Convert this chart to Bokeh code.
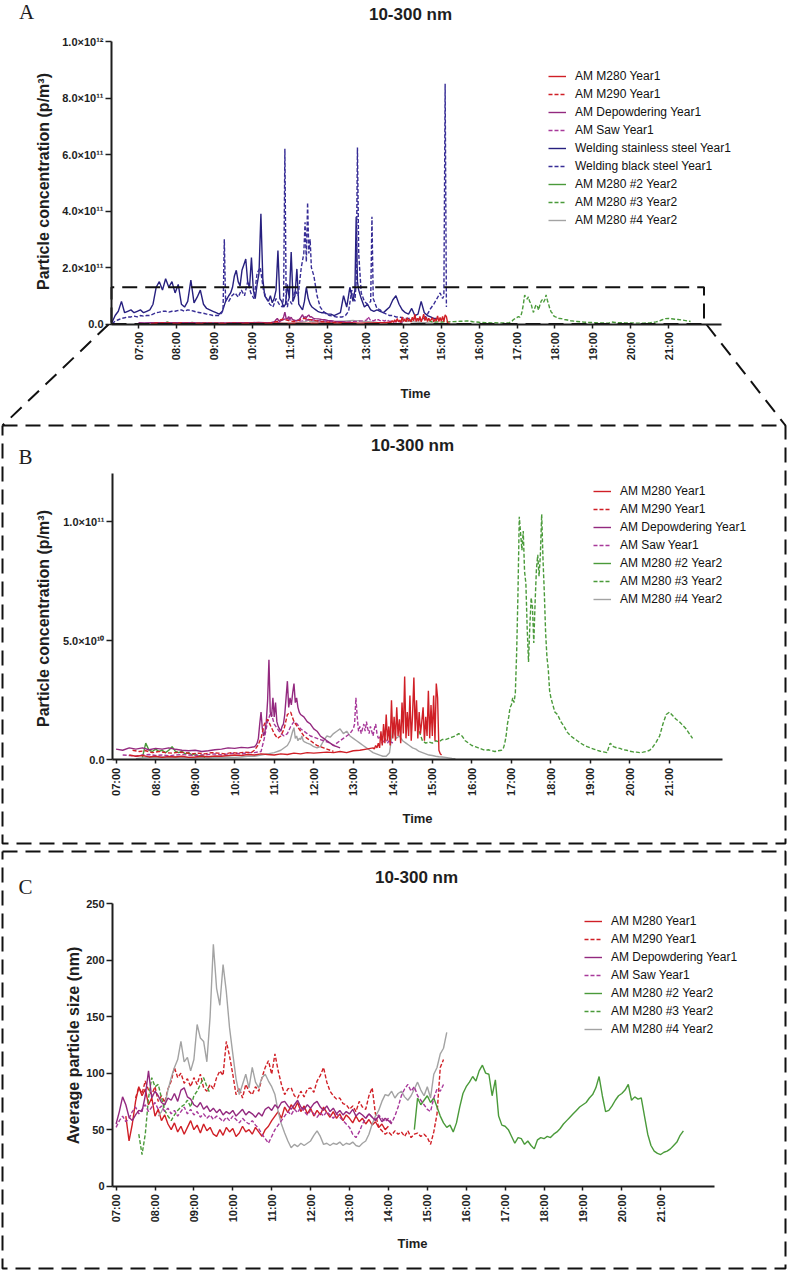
import math
import numpy as np
from bokeh.plotting import figure
from bokeh.models import Range1d, LinearAxis, FixedTicker, Legend, LegendItem
from bokeh.embed import file_html
from bokeh.resources import INLINE
from bokeh.core.properties import value

# ======================= DATA =======================
hour_ticks = list(range(7, 22))
hour_labels = ["%02d:00" % h for h in hour_ticks]

conc_a_ticks = [0, 2e11, 4e11, 6e11, 8e11, 1e12]
conc_a_labels = ["0.0", "2.0×10¹¹", "4.0×10¹¹", "6.0×10¹¹", "8.0×10¹¹", "1.0×10¹²"]
conc_b_ticks = [0, 5e10, 1e11]
conc_b_labels = ["0.0", "5.0×10¹⁰", "1.0×10¹¹"]
size_ticks = [0, 50, 100, 150, 200, 250]
size_labels = ["0", "50", "100", "150", "200", "250"]

series_names = ["AM M280 Year1", "AM M290 Year1", "AM Depowdering Year1", "AM Saw Year1",
                "Welding stainless steel Year1", "Welding black steel Year1",
                "AM M280 #2 Year2", "AM M280 #3 Year2", "AM M280 #4 Year2"]

# --- welding, particle concentration, units of 1e11 p/m3: (start, step minutes, values)
welding_ss_e11 = [("06:18", 5, [0.05, 0.3, 0.45, 0.8, 0.4, 0.45, 0.5, 0.4, 0.45, 0.5, 0.4, 0.45, 0.5, 0.7, 1.3,
                                1.5, 1.2, 1.6, 1.3, 1.5, 1.1, 1.4, 0.7, 0.6, 0.8, 1.55, 0.75, 0.95, 1.2, 0.7,
                                0.55, 0.5, 0.45, 0.4, 0.35, 0.45, 0.8, 1.0]),
                  ("09:26", 3, [1.1, 1.3, 1.7, 1.9, 1.5, 1.35, 1.9, 2.1, 2.3, 1.5, 1.3, 2.35, 1.2, 0.9, 1.4,
                                1.8, 3.9, 1.6, 1.0, 0.9, 0.8, 1.0, 0.75, 0.9, 1.2, 2.6, 0.9, 0.8, 0.6, 0.7,
                                1.4, 0.9, 2.55, 0.8, 1.0, 1.95, 0.7, 0.6, 0.5, 0.8, 1.3, 0.9, 0.7, 0.6, 0.55,
                                0.5, 0.45, 0.42]),
                  ("11:50", 5, [0.4, 0.4, 0.35, 0.35, 0.3, 0.35, 0.4, 1.0, 0.6, 1.3, 0.8]),
                  ("12:43", 2, [1.2, 3.8, 1.5, 1.2]),
                  ("12:53", 5, [0.9, 0.6, 0.7, 0.5, 0.45, 0.5, 0.45, 0.4, 0.5, 0.6, 0.85, 1.0, 0.7, 0.5, 0.4,
                                0.35, 0.55, 0.3, 0.35, 0.8, 0.4, 0.3, 0.25, 0.2, 0.2])]
welding_bs_e11 = [("06:18", 5, [0.0, 0.1, 0.15, 0.2, 0.22, 0.25, 0.25, 0.28, 0.25, 0.3, 0.28, 0.3, 0.3, 0.35, 0.4,
                                0.42, 0.45, 0.45, 0.42, 0.45, 0.45, 0.48, 0.5, 0.45, 0.5, 0.48, 0.45, 0.42, 0.4,
                                0.38, 0.35, 0.33, 0.3, 0.3, 0.3]),
                  ("09:12", 2, [0.4, 0.5, 3.0, 0.8, 0.9]),
                  ("09:23", 5, [0.8, 1.0, 1.1, 0.95, 1.2, 1.0, 1.5, 1.1, 0.9, 1.8, 2.0, 1.2, 0.9, 0.7, 0.6,
                                0.9, 0.7]),
                  ("10:48", 2, [0.6, 1.0, 6.2, 0.9, 0.6]),
                  ("10:58", 5, [0.9, 0.7, 1.2, 1.0, 2.0]),
                  ("11:22", 2, [2.5, 3.6, 2.2, 4.3, 2.5, 3.0, 2.0]),
                  ("11:38", 5, [1.7, 1.0, 0.6, 0.45, 0.35, 0.3, 0.28, 0.25, 0.25, 0.25, 0.3, 0.45, 1.2, 0.8]),
                  ("12:45", 2, [1.5, 6.25, 2.5, 1.8]),
                  ("12:53", 5, [1.1, 0.8, 0.7]),
                  ("13:08", 2, [0.8, 3.8, 0.9]),
                  ("13:18", 5, [0.55, 0.5, 0.4, 0.35, 0.3, 0.3, 0.25, 0.25, 0.22, 0.2, 0.2, 0.18, 0.2, 0.18,
                                0.15, 0.2, 0.35, 0.55, 0.7, 0.9, 1.1]),
                  ("15:02", 2, [0.9, 1.0, 8.5, 0.6])]

# --- AM processes, particle concentration, units of 1e10 p/m3
m280_y1_e10 = [("07:20", 10, [0.2, 0.15, 0.18, 0.12, 0.15, 0.1, 0.14, 0.12, 0.15, 0.1, 0.12, 0.15, 0.13, 0.16,
                              0.15, 0.18, 0.2, 0.18, 0.22, 0.2, 0.25, 0.22, 0.2, 0.25, 0.22, 0.28, 0.25, 0.3,
                              0.28, 0.3, 0.32, 0.3, 0.35, 0.3, 0.38, 0.4, 0.45]),
               ("13:30", 2, [0.5, 0.45, 0.6, 0.5, 0.7, 0.5, 1.2, 0.6, 1.5, 0.7, 1.9, 0.8, 1.4, 0.6, 2.5, 0.9,
                             1.8, 0.8, 2.2, 1.0, 1.7, 0.7, 2.4, 1.1, 3.5, 0.9, 2.0, 1.0, 2.7, 0.8, 1.9, 3.45,
                             1.2, 2.5, 0.9, 2.0, 1.1, 1.6, 2.2, 0.8, 1.8, 1.0, 2.9, 0.9, 2.3, 1.0, 2.7, 0.8,
                             3.2, 2.6, 0.4, 0.25, 0.2])]
m290_y1_e10 = [("07:25", 10, [0.4, 0.35, 0.38, 0.3, 0.35, 0.3, 0.28, 0.32, 0.3, 0.25, 0.28, 0.25, 0.3, 0.28,
                              0.25, 0.3, 0.28, 0.32]),
               ("10:25", 5, [0.3, 0.4, 0.6, 0.9, 1.5, 1.7, 1.4, 1.1, 0.9, 1.0, 1.3, 1.9, 2.0, 1.6, 1.4, 1.2,
                             1.0, 0.9, 0.8, 0.7, 0.6, 0.55, 0.5, 0.45, 0.4, 0.35])]
depow_y1_e10 = [("07:00", 10, [0.45, 0.4, 0.5, 0.45, 0.5, 0.42, 0.48, 0.45, 0.5, 0.44, 0.4, 0.38, 0.4, 0.35,
                               0.38, 0.42, 0.45, 0.5, 0.48, 0.52, 0.5, 0.55]),
                ("10:32", 2, [0.6, 0.7, 0.9, 1.5, 2.0, 1.3, 1.0, 1.2, 1.6, 2.5, 4.2, 2.0, 1.8, 2.6, 1.8, 2.4,
                              1.6, 1.4, 1.3, 1.2, 1.4, 1.5, 1.9, 2.6, 3.3, 2.2, 2.6, 2.3, 2.8, 3.2, 2.4, 2.6,
                              2.2, 2.0, 1.9]),
                ("11:45", 5, [1.8, 1.6, 1.5, 1.3, 1.2, 1.0, 0.9, 0.8, 0.7, 0.6, 0.55, 0.5])]
saw_y1_e10 = [("07:10", 10, [0.2, 0.18, 0.15, 0.2, 0.22, 0.18, 0.2, 0.17, 0.2, 0.22, 0.2, 0.18, 0.2, 0.22,
                             0.25, 0.2, 0.25, 0.28, 0.25, 0.3, 0.3, 0.35]),
              ("10:45", 5, [0.9, 1.6, 2.0, 1.5, 1.3, 1.1, 1.0, 1.1, 1.4, 1.6, 1.5, 1.3, 1.2, 1.1, 1.0, 0.95,
                            0.9, 0.85, 0.8, 0.75, 0.7, 0.6, 0.7, 0.8, 0.9, 1.0, 1.1, 1.3]),
              ("13:02", 2, [1.5, 2.6, 1.8, 1.2, 1.4, 1.1, 1.3, 1.5, 1.2, 1.6, 1.3, 1.1, 1.4, 1.2, 1.0, 1.3,
                            1.5, 1.1, 0.9, 1.0, 0.8, 0.7, 0.8, 0.9, 0.8, 0.7, 0.8, 0.7, 0.75, 0.7])]
m280n2_y2_e10 = [("07:40", 5, [0.1, 0.7, 0.4, 0.35, 0.45, 0.35, 0.4, 0.3, 0.4, 0.55, 0.35, 0.3, 0.35, 0.25,
                               0.3, 0.2, 0.25, 0.15, 0.2, 0.1])]
m280n3_y2_e10 = [("14:40", 5, [1.2, 0.8, 0.7, 0.75, 0.7, 0.8, 0.75, 0.85, 0.85, 0.9, 0.95, 1.0, 1.1, 1.0, 0.8,
                               0.7, 0.6, 0.55, 0.5, 0.45, 0.4, 0.42, 0.38, 0.35, 0.38, 0.4]),
                 ("16:48", 2, [0.5, 0.7, 1.0, 1.5, 1.8, 2.2, 2.3, 2.6, 2.4, 2.8, 4.5, 7.0, 10.2, 9.5, 8.8,
                               9.6, 7.9, 7.4, 5.5, 4.1, 5.6, 6.8, 6.4, 4.9, 6.6, 8.0, 8.6, 7.7, 8.6, 10.3,
                               8.4, 7.0, 5.3, 4.3, 3.8, 2.9, 2.6, 2.4, 2.2, 2.0, 1.95, 1.9]),
                 ("18:15", 5, [1.6, 1.4, 1.15, 1.0, 0.9, 0.8, 0.7, 0.62, 0.55, 0.5, 0.45, 0.4, 0.36, 0.33,
                               0.3, 0.7, 0.55, 0.5, 0.48, 0.42, 0.4, 0.36, 0.33, 0.32, 0.3, 0.32, 0.35, 0.4,
                               0.55, 0.75, 1.0, 1.5, 1.9, 2.0, 1.85, 1.7, 1.6, 1.45, 1.3, 1.1, 0.9])]
m280n4_y2_e10 = [("07:30", 10, [0.05, 0.08, 0.1, 0.1, 0.12, 0.1, 0.12, 0.1, 0.1, 0.08, 0.1, 0.08, 0.1, 0.1,
                                0.12, 0.1, 0.12, 0.15, 0.15, 0.2, 0.25, 0.3, 0.4, 0.6]),
                 ("11:24", 2, [0.8, 1.0, 1.2, 1.35, 0.9, 1.0, 0.8, 0.9, 0.85, 1.0, 0.8, 0.75]),
                 ("11:50", 5, [0.7, 0.65, 0.55, 0.5, 0.55, 0.8, 1.0, 0.95, 1.1, 1.2, 1.3, 1.1, 1.2, 1.0, 0.9,
                               0.8, 0.7, 0.6, 0.5, 0.4, 0.3, 0.25, 0.2, 0.15, 0.15, 0.3, 1.3, 0.9, 1.0, 0.8,
                               0.7, 0.6, 0.5, 0.45, 0.35, 0.3, 0.25, 0.2, 0.18, 0.15, 0.13, 0.12, 0.1, 0.08,
                               0.06, 0.05])]

# --- average particle size (nm)
m280_y1_nm = [("07:15", 5, [62, 40, 55, 75, 88, 80, 86, 72, 78, 62, 68, 58, 63, 55, 50, 56, 48, 53, 46, 52,
                            58, 50, 54, 47, 55, 49, 52, 46, 44, 50, 45, 52, 48, 51, 44, 47, 53, 48, 50, 46,
                            52, 48, 44, 50, 53, 58, 62, 66, 60, 70, 65, 72, 68, 74, 66, 71, 64, 69, 62, 67,
                            63, 70, 65, 61, 66, 60, 64, 58, 63, 60, 56, 62, 57, 60, 55, 59, 54, 57, 52, 55,
                            50, 53])]
m290_y1_nm = [("07:30", 5, [78, 87, 82, 93, 85, 81, 88, 75, 80, 74, 86, 93, 105, 96, 100, 91, 95, 88, 96, 90,
                            99, 87, 84, 90, 86, 96, 102, 98, 128, 115, 99, 81, 87, 78, 90, 84, 81, 88, 84, 96,
                            105, 111, 99, 117, 102, 90, 81, 86, 87, 80, 78, 84, 79, 86, 87, 83, 93, 98, 105, 92,
                            84, 80, 77, 78, 73, 72, 68, 71, 66, 75, 70, 68, 80, 87, 64, 52, 49, 46, 48, 45,
                            49, 46, 48, 44, 49, 43, 46, 47, 44, 46, 43, 37, 48, 64, 105, 112])]
depow_y1_nm = [("07:00", 5, [55, 66, 79, 72, 61, 58, 63, 67, 66, 80, 102, 78, 84, 80, 74, 72, 78, 76, 82, 75,
                             85, 87, 79, 77, 72, 70, 74, 68, 71, 66, 69, 65, 68, 63, 66, 64, 67, 62, 65, 68,
                             63, 66, 64, 61, 65, 62, 68, 70, 67, 72, 69, 74, 75, 71, 68, 72, 76, 70, 68, 72,
                             69, 73, 75, 70, 67, 71, 66, 69, 64, 67, 63, 66, 64, 68, 62, 65, 63, 60, 64, 61,
                             58, 62, 57, 60, 58, 55])]
saw_y1_nm = [("07:00", 5, [52, 58, 62, 57, 60, 66, 70, 64, 68, 72, 66, 70, 74, 68, 71, 66, 69, 64, 67, 62,
                           66, 70, 64, 68, 63, 66, 61, 64, 60, 63, 59, 62, 60, 57, 61, 58, 62, 59, 56, 60,
                           57, 55, 58, 54, 51, 46, 42, 38, 44, 50, 54, 58, 62, 66, 63, 68, 65, 70, 66, 63,
                           67, 64, 61, 65, 62, 66, 63, 60, 64, 61, 58, 55, 52, 46, 43, 48, 55, 60, 64, 61,
                           59, 63, 60, 57, 60, 56, 62, 70, 80, 86, 90, 84, 88, 80, 76, 72, 68, 66, 78, 86,
                           84, 90])]
m280n2_y2_nm = [("14:40", 5, [50, 78, 72, 76, 80, 74, 78, 70, 62, 56, 52, 54, 48, 56, 70, 82, 88, 92, 97, 93,
                              102, 107, 100, 99, 80, 94, 62, 54, 53, 50, 44, 38, 43, 42, 37, 40, 36, 33, 41,
                              43, 42, 44, 43, 46, 48, 51, 55, 58, 61, 64, 67, 70, 72, 74, 78, 81, 87, 97, 80,
                              66, 67, 71, 76, 80, 82, 85, 90, 76, 79, 77, 78, 62, 46, 36, 31, 29, 28, 30, 31,
                              33, 36, 39, 45, 49])]
m280n3_y2_nm = [("07:35", 5, [46, 28, 46, 78, 96, 88, 90, 78, 67, 62, 58, 63, 67, 70, 72, 76, 70, 80, 84, 90,
                              96, 88, 82])]
m280n4_y2_nm = [("08:05", 5, [62, 66, 72, 85, 96, 105, 112, 128, 110, 114, 102, 112, 143, 131, 128, 110,
                              150, 214, 175, 160, 196, 172, 140, 117, 95, 81, 90, 99, 87, 105, 92, 87, 96, 99,
                              93, 88, 81, 66, 55, 47, 40, 34, 37, 35, 38, 36, 38, 40, 45, 49, 44, 37, 38, 36,
                              38, 37, 39, 36, 38, 37, 39, 36, 35, 38, 40, 46, 55, 62, 67, 75, 81, 80, 84, 78,
                              82, 84, 79, 76, 80, 86, 92, 85, 80, 88, 78, 99, 105, 117, 122, 136])]

# ======================= LAYOUT CONSTANTS =======================
REF_W, REF_H = 787, 1270          # design coordinate space (pixels of the reference)
W, H = 787, 1270                  # actual figure size
SX, SY = W / REF_W, H / REF_H

RED, PURPLE, MAGENTA = "#d01f26", "#93297f", "#a8399a"
NAVY, NAVY2, GREEN, GRAY = "#27207f", "#372d96", "#4a9a3a", "#a3a3a3"
DASH = "4 2"
FONT = "Liberation Sans"
INK = "#1e1e1e"
LW = 1.4

# panel geometry in design pixels: x of 07:00 and 21:00 ticks, y of value 0 and of a top value
PANELS = {
    "A": dict(t7=138.0, t21=668.0, y0=323.5, vtop=1e12, ytop=41.0, xlo=111.0, xhi=721.0),
    "B": dict(t7=115.6, t21=669.0, y0=759.3, vtop=1e11, ytop=521.0, xlo=112.0, xhi=722.0),
    "C": dict(t7=115.6, t21=660.2, y0=1185.7, vtop=250.0, ytop=903.0, xlo=112.0, xhi=713.6),
}


def hrs(s):
    h, m = s.split(":")
    return int(h) + int(m) / 60.0


def build(segments, unit=1.0):
    ts, vs = [], []
    for start, step, vals in segments:
        t0 = hrs(start)
        ts += [t0 + i * step / 60.0 for i in range(len(vals))]
        vs += list(vals)
    return np.array(ts), np.array(vs) * unit


def t_of_px(g, px):
    return 7 + (px - g["t7"]) * 14.0 / (g["t21"] - g["t7"])


def v_of_px(g, py):
    return (py - g["y0"]) * g["vtop"] / (g["ytop"] - g["y0"])


p = figure(width=W, height=H, x_range=Range1d(0, REF_W), y_range=Range1d(REF_H, 0),
           output_backend="svg", toolbar_location=None, tools="",
           x_axis_location=None, y_axis_location=None, min_border=0,
           min_border_left=0, min_border_right=0, min_border_top=0, min_border_bottom=0)
p.outline_line_color = None
p.background_fill_color = "white"
p.border_fill_color = "white"
for g in p.grid:
    g.visible = False

for k, g in PANELS.items():
    p.extra_x_ranges["t" + k] = Range1d(t_of_px(g, 0), t_of_px(g, REF_W))
    p.extra_y_ranges["y" + k] = Range1d(v_of_px(g, REF_H), v_of_px(g, 0))


def add_axes(k, yticks, ylabels, ymax):
    g = PANELS[k]
    tlo, thi = t_of_px(g, g["xlo"]), t_of_px(g, g["xhi"])
    common = dict(axis_line_color=INK, axis_line_width=2, major_tick_line_color=INK,
                  major_tick_line_width=1.5, major_tick_in=0, minor_tick_line_color=None,
                  major_label_text_font=FONT, major_label_text_font_style="bold",
                  major_label_text_font_size="11px", major_label_text_color=INK)
    xa = LinearAxis(x_range_name="t" + k, y_range_name="y" + k, fixed_location=0, bounds=(tlo, thi),
                    ticker=FixedTicker(ticks=hour_ticks, minor_ticks=[]),
                    major_label_overrides=dict(zip(hour_ticks, hour_labels)),
                    major_label_orientation=math.pi / 2, major_tick_out=4, major_label_standoff=4,
                    **common)
    p.add_layout(xa, "below")
    ya = LinearAxis(x_range_name="t" + k, y_range_name="y" + k, fixed_location=tlo, bounds=(0, ymax),
                    ticker=FixedTicker(ticks=yticks, minor_ticks=[]),
                    major_label_overrides=dict(zip(yticks, ylabels)),
                    major_tick_out=6, major_label_standoff=2, **common)
    p.add_layout(ya, "left")
    return tlo


def draw(k, segs, unit, color, dash, width=LW):
    t, v = build(segs, unit)
    return p.line(t, v, x_range_name="t" + k, y_range_name="y" + k, line_color=color,
                  line_dash=dash, line_width=width)


def text(x, y, s, size, bold=True, angle=0.0, font=FONT, align="center"):
    p.text(x=[x], y=[y], text=[s], text_font=value(font), text_font_size=value(size),
           text_font_style="bold" if bold else "normal", text_align=align,
           text_baseline="middle", angle=angle, text_color=INK)


def legend(items, ref_left, ref_first_center):
    n = len(items)
    hi, sp = 16, 2
    top = ref_first_center * SY - hi / 2
    height = n * hi + (n - 1) * sp
    lg = Legend(items=[LegendItem(label=lab, renderers=[r]) for lab, r in items],
                location=(ref_left * SX, H - (top + height)),
                glyph_width=18, glyph_height=hi, label_height=hi, spacing=sp, padding=0, margin=0,
                label_standoff=9, label_text_font=FONT, label_text_font_size="12px",
                label_text_color="#111111", border_line_color=None, background_fill_alpha=0)
    p.add_layout(lg)


E10, E11 = 1e10, 1e11

# ----------------------------- Panel A -----------------------------
tloA = add_axes("A", conc_a_ticks, conc_a_labels, 1e12)
rA = {}
rA[4] = draw("A", welding_ss_e11, E11, NAVY, "solid")
rA[5] = draw("A", welding_bs_e11, E11, NAVY2, DASH)
rA[8] = draw("A", m280n4_y2_e10, E10, GRAY, "solid")
rA[6] = draw("A", m280n2_y2_e10, E10, GREEN, "solid")
rA[7] = draw("A", m280n3_y2_e10, E10, GREEN, DASH)
rA[3] = draw("A", saw_y1_e10, E10, MAGENTA, DASH)
rA[2] = draw("A", depow_y1_e10, E10, PURPLE, "solid")
rA[1] = draw("A", m290_y1_e10, E10, RED, DASH)
rA[0] = draw("A", m280_y1_e10, E10, RED, "solid")
legend([(series_names[i], rA[i]) for i in range(9)], 548, 76)

# zoom box of panel A (the region enlarged in panel B)
zoom_t = [tloA, t_of_px(PANELS["A"], 703.5)]
zoom_v = [0, 1.3e11]
p.line([zoom_t[0], zoom_t[1], zoom_t[1], zoom_t[0], zoom_t[0]],
       [zoom_v[0], zoom_v[0], zoom_v[1], zoom_v[1], zoom_v[0]],
       x_range_name="tA", y_range_name="yA", line_color="#111", line_width=2, line_dash="15 8")
text(410, 14, "10-300 nm", "17px")
text(26, 11, "A", "21px", bold=False, font="Liberation Serif")
text(415, 393, "Time", "13px")
text(43, 181, "Particle concentration (p/m³)", "16px", angle=math.pi / 2)

# connectors + dashed frames (design pixels)
p.line([108, 2], [324, 425], line_color="#111", line_width=2, line_dash="15 9")
p.line([706, 785], [324, 425], line_color="#111", line_width=2, line_dash="15 9")
p.line([2, 785, 785, 2, 2], [425, 425, 843, 843, 425], line_color="#111", line_width=2, line_dash="15 8")
p.line([2, 785, 785, 2, 2], [851, 851, 1268, 1268, 851], line_color="#111", line_width=2, line_dash="15 8")

# ----------------------------- Panel B -----------------------------
add_axes("B", conc_b_ticks, conc_b_labels, 1.2e11)
rB = {}
rB[8] = draw("B", m280n4_y2_e10, E10, GRAY, "solid")
rB[6] = draw("B", m280n2_y2_e10, E10, GREEN, "solid")
rB[7] = draw("B", m280n3_y2_e10, E10, GREEN, DASH)
rB[3] = draw("B", saw_y1_e10, E10, MAGENTA, DASH)
rB[2] = draw("B", depow_y1_e10, E10, PURPLE, "solid")
rB[1] = draw("B", m290_y1_e10, E10, RED, DASH)
rB[0] = draw("B", m280_y1_e10, E10, RED, "solid")
legend([(series_names[i], rB[i]) for i in [0, 1, 2, 3, 6, 7, 8]], 593, 491)
text(412, 445, "10-300 nm", "17px")
text(25, 456, "B", "21px", bold=False, font="Liberation Serif")
text(417, 818, "Time", "13px")
text(43, 618, "Particle concentration (p/m³)", "16px", angle=math.pi / 2)

# ----------------------------- Panel C -----------------------------
add_axes("C", size_ticks, size_labels, 250)
rC = {}
rC[0] = draw("C", m280_y1_nm, 1.0, RED, "solid")
rC[1] = draw("C", m290_y1_nm, 1.0, RED, DASH)
rC[8] = draw("C", m280n4_y2_nm, 1.0, GRAY, "solid")
rC[6] = draw("C", m280n2_y2_nm, 1.0, GREEN, "solid")
rC[7] = draw("C", m280n3_y2_nm, 1.0, GREEN, DASH)
rC[3] = draw("C", saw_y1_nm, 1.0, MAGENTA, DASH)
rC[2] = draw("C", depow_y1_nm, 1.0, PURPLE, "solid")
legend([(series_names[i], rC[i]) for i in [0, 1, 2, 3, 6, 7, 8]], 584, 921)
text(416, 877, "10-300 nm", "17px")
text(25, 886, "C", "21px", bold=False, font="Liberation Serif")
text(412, 1243, "Time", "13px")
text(73, 1045, "Average particle size (nm)", "16px", angle=math.pi / 2)

open("out.html", "w").write(file_html(p, INLINE))
